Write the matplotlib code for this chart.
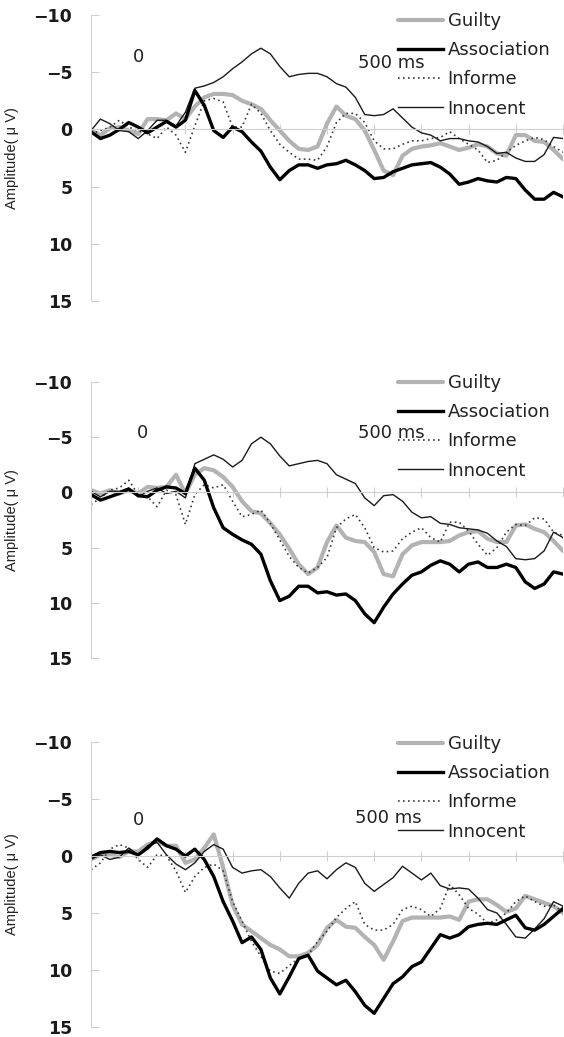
import matplotlib.pyplot as plt
import numpy as np

# sample times in ms, one value every 20 ms
times = np.arange(-100, 901, 20)

# top panel
guilty_1 = [0.1, 0.5, -0.1, -0.2, 0.1, 0.4, -0.9, -0.9, -0.8, -1.4, -0.9, -2.0, -2.8, -3.1, -3.1, -3.0, -2.5,
            -2.2, -1.8, -0.8, 0.1, 1.0, 1.7, 1.8, 1.5, -0.5, -2.0, -1.2, -0.9, 0.1, 1.8, 3.6, 4.0, 2.3, 1.7,
            1.5, 1.4, 1.2, 1.5, 1.8, 1.6, 1.3, 1.5, 2.1, 2.3, 0.5, 0.5, 1.0, 1.1, 1.8, 2.6]
association_1 = [0.2, 0.8, 0.5, 0.0, -0.6, -0.2, 0.3, -0.2, -0.7, -0.2, -0.8, -3.4, -2.1, 0.1, 0.7, -0.2, 0.2,
                 1.1, 1.9, 3.3, 4.4, 3.6, 3.1, 3.1, 3.4, 3.1, 3.0, 2.7, 3.1, 3.6, 4.3, 4.2, 3.7, 3.4, 3.1,
                 3.0, 2.9, 3.3, 3.9, 4.8, 4.6, 4.3, 4.5, 4.6, 4.2, 4.3, 5.3, 6.1, 6.1, 5.5, 5.9]
informe_1 = [0.4, 0.1, -0.2, -0.8, -0.2, 0.1, 0.4, 0.8, -0.2, 0.5, 2.0, -0.3, -2.5, -2.7, -2.4, -0.2, -0.2,
             -2.2, -1.4, 0.1, 1.3, 2.0, 2.6, 2.6, 2.7, 1.5, -0.6, -1.4, -1.4, -0.6, 1.0, 1.7, 1.7, 1.3, 1.0,
             1.0, 0.8, 0.7, 0.2, 0.8, 1.3, 1.8, 2.9, 2.7, 2.0, 1.4, 1.0, 0.7, 0.9, 1.5, 2.0]
innocent_1 = [0.1, -0.9, -0.5, 0.1, 0.2, 0.8, 0.1, -0.8, -0.8, -0.3, -1.5, -3.6, -3.8, -4.1, -4.6, -5.3, -5.9,
              -6.6, -7.1, -6.6, -5.5, -4.6, -4.8, -4.9, -4.9, -4.6, -4.0, -3.7, -2.8, -1.3, -1.2, -1.3, -1.8,
              -1.0, -0.2, 0.3, 0.5, 1.0, 0.8, 0.8, 1.0, 1.1, 1.5, 2.1, 2.0, 2.5, 2.8, 2.8, 2.2, 0.7, 0.8]

# middle panel
guilty_2 = [-0.2, 0.1, -0.2, 0.1, -0.2, 0.1, -0.5, -0.4, -0.5, -1.6, 0.1, -1.6, -2.2, -2.0, -1.4, -0.5, 0.8,
            1.7, 1.9, 2.8, 3.8, 5.1, 6.5, 7.4, 6.8, 4.5, 3.0, 4.1, 4.4, 4.5, 5.4, 7.4, 7.6, 5.6, 4.8, 4.5,
            4.5, 4.5, 4.4, 3.9, 3.6, 3.5, 4.2, 4.5, 4.5, 3.0, 2.9, 3.3, 3.6, 4.4, 5.3]
association_2 = [0.2, 0.7, 0.4, 0.1, -0.3, 0.3, 0.4, -0.2, -0.5, -0.4, 0.1, -2.2, -1.1, 1.4, 3.2, 3.8, 4.3,
                 4.7, 5.6, 8.0, 9.8, 9.4, 8.5, 8.5, 9.1, 9.0, 9.3, 9.2, 9.8, 11.0, 11.8, 10.4, 9.2, 8.3, 7.5,
                 7.2, 6.6, 6.2, 6.5, 7.2, 6.5, 6.3, 6.8, 6.8, 6.5, 6.8, 8.1, 8.7, 8.3, 7.2, 7.4]
informe_2 = [1.1, 0.5, -0.2, -0.4, -1.1, 0.2, 0.4, 1.3, -0.2, 0.2, 2.9, 0.2, -0.7, -0.4, -0.7, 0.8, 2.2, 2.0,
             1.6, 2.8, 4.3, 5.8, 6.8, 7.3, 6.8, 5.9, 3.2, 2.4, 2.0, 3.2, 5.0, 5.4, 5.3, 4.2, 3.6, 3.2, 4.1,
             4.5, 2.7, 2.7, 3.5, 4.7, 5.7, 5.0, 3.6, 2.9, 3.0, 2.3, 2.4, 3.6, 3.9]
innocent_2 = [-0.1, 0.4, -0.1, -0.1, -0.4, 0.4, -0.1, -0.4, 0.1, -0.1, 0.5, -2.6, -3.0, -3.4, -3.0, -2.3, -2.9,
              -4.4, -5.0, -4.4, -3.3, -2.4, -2.6, -2.8, -2.9, -2.6, -1.6, -1.2, -0.8, 0.5, 1.2, 0.3, 0.2, 0.8,
              1.8, 2.3, 2.2, 2.8, 2.9, 3.2, 3.3, 3.4, 3.7, 4.4, 4.9, 6.0, 6.1, 6.0, 5.3, 3.6, 4.1]

# bottom panel
guilty_3 = [0.3, -0.1, -0.1, 0.1, -0.4, -0.4, -1.0, -1.3, -0.9, -0.9, 0.6, 0.3, -0.7, -1.9, 1.0, 4.3, 6.0,
            6.6, 7.2, 7.8, 8.2, 8.8, 8.8, 8.5, 7.8, 6.3, 5.6, 6.2, 6.3, 7.1, 7.8, 9.1, 7.5, 5.7, 5.4, 5.4,
            5.4, 5.4, 5.3, 5.6, 4.0, 3.8, 3.8, 4.3, 4.9, 4.6, 3.5, 3.8, 4.1, 4.4, 5.0]
association_3 = [0.1, -0.3, -0.4, -0.3, -0.4, -0.1, -0.7, -1.5, -0.9, -0.6, 0.0, -0.6, 0.3, 1.8, 4.0, 5.7,
                 7.6, 7.1, 8.2, 10.7, 12.1, 10.6, 9.0, 8.7, 10.1, 10.7, 11.3, 10.9, 11.9, 13.1, 13.8, 12.5,
                 11.2, 10.6, 9.7, 9.3, 8.1, 6.9, 7.2, 6.9, 6.2, 6.0, 5.9, 6.0, 5.6, 5.2, 6.3, 6.5, 6.0, 5.3, 4.6]
informe_3 = [1.2, 0.6, -0.6, -1.0, -0.7, 0.3, 1.0, -0.1, 0.0, 1.3, 3.2, 1.8, 1.0, 0.7, 1.3, 4.0, 5.7, 7.5,
             8.8, 10.1, 10.3, 9.6, 9.0, 8.7, 7.5, 6.6, 5.4, 4.6, 4.0, 6.0, 6.5, 6.5, 6.0, 4.7, 4.4, 4.7, 5.3,
             4.6, 2.5, 3.4, 4.6, 5.1, 5.9, 5.6, 5.0, 4.0, 3.5, 4.0, 4.4, 4.3, 4.9]
innocent_3 = [0.3, -0.1, 0.3, 0.1, -0.7, -0.1, -0.9, -1.2, -0.1, 0.7, 1.2, 0.6, -0.4, -1.0, -0.6, 1.0, 1.5,
              1.3, 1.2, 1.8, 2.8, 3.7, 2.4, 1.5, 1.3, 2.0, 1.2, 0.6, 1.0, 2.4, 3.1, 2.5, 1.9, 0.9, 1.5, 2.1,
              1.5, 2.6, 2.9, 2.8, 2.9, 3.7, 4.7, 5.0, 6.0, 7.1, 7.2, 6.4, 5.5, 4.0, 4.4]

labels = ["Guilty", "Association", "Informe", "Innocent"]
yticks = [-10, -5, 0, 5, 10, 15]
xticks = np.arange(-100, 901, 100)

panels = [
    (guilty_1, association_1, informe_1, innocent_1),
    (guilty_2, association_2, informe_2, innocent_2),
    (guilty_3, association_3, informe_3, innocent_3),
]

W, H = 564, 1037
fig = plt.figure(figsize=(W / 100, H / 100), dpi=100)

# pixel rows of the -10 and 15 gridlines, legend top, and where "0" / "500 ms" sit
boxes = [(15, 301), (382, 658), (742, 1027)]
legend_tops = [12, 374, 735]
zero_pos = [(0, -6.3), (10, -5.4), (0, -3.2)]
ms_pos = [(466, -5.8), (466, -5.4), (460, -3.3)]

axis_grey = "#cfcfcf"

for (g, a, i, n), (top, bot), ltop, zp, mp in zip(panels, boxes, legend_tops, zero_pos, ms_pos):
    ax = fig.add_axes([91 / W, 1 - bot / H, 472 / W, (bot - top) / H])

    lg, = ax.plot(times, g, color="#b3b3b3", lw=3.0, solid_capstyle="round")
    li, = ax.plot(times, i, color="#3a3a3a", lw=1.2, linestyle=(0, (1, 2)))
    ln, = ax.plot(times, n, color="#1a1a1a", lw=1.0)
    la, = ax.plot(times, a, color="black", lw=2.4)

    ax.set_xlim(-100, 900)
    ax.set_ylim(15, -10)

    for side in ["top", "right"]:
        ax.spines[side].set_visible(False)
    ax.spines["left"].set_color(axis_grey)
    ax.spines["bottom"].set_position(("data", 0))
    ax.spines["bottom"].set_color(axis_grey)

    ax.set_xticks(xticks)
    ax.set_xticklabels([])
    ax.tick_params(axis="x", direction="inout", length=7, color=axis_grey)
    ax.set_yticks(yticks)
    ax.tick_params(axis="y", direction="in", length=6, color=axis_grey, pad=13.5,
                   labelsize=12.5)
    for lab in ax.get_yticklabels():
        lab.set_fontweight("bold")
        lab.set_color("#1a1a1a")

    ax.set_ylabel("Amplitude( μ V)", fontsize=10.5, family="Liberation Sans", color="#222222")
    ax.yaxis.set_label_coords(-0.153, 0.5)

    ax.text(zp[0], zp[1], "0", fontsize=13, ha="center", va="center", color="#222222")
    ax.text(mp[0], mp[1], "500 ms", fontsize=13, ha="left", va="center", color="#222222")

    ax.legend([lg, la, li, ln], labels, loc="upper left",
              bbox_to_anchor=(398 / W, 1 - ltop / H), bbox_transform=fig.transFigure,
              frameon=False, borderpad=0, borderaxespad=0, handlelength=2.5,
              handletextpad=0.25, labelspacing=0.62, fontsize=13, labelcolor="#222222")

fig.savefig("out.png", dpi=100)
